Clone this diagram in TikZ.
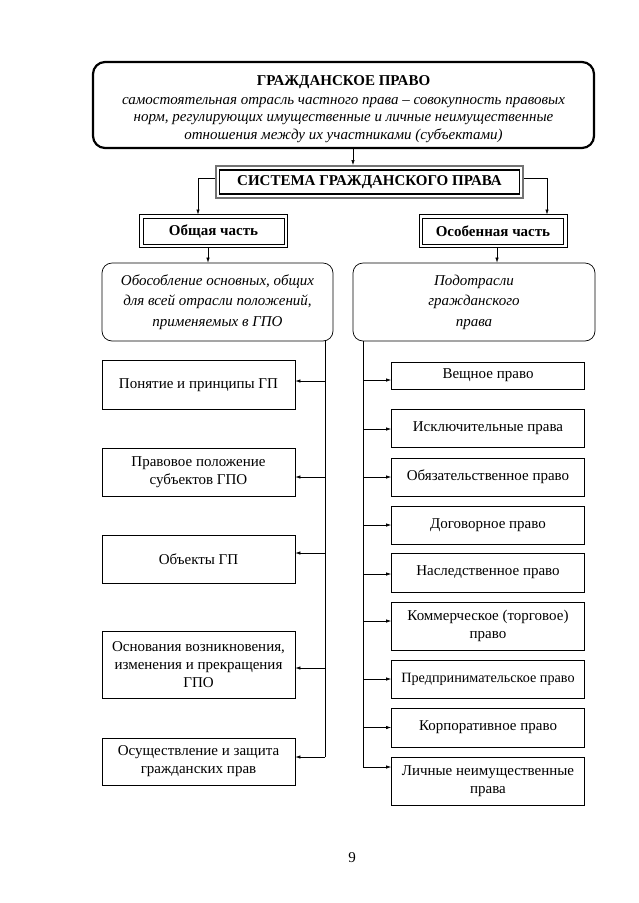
\documentclass[tikz,border=0pt]{standalone}
\usepackage{fontspec}
\setmainfont{Liberation Serif}
\usepackage{tikz}
\usetikzlibrary{arrows.meta, calc}

\begin{document}
\begin{tikzpicture}[x=1pt,y=-1pt,
           font=\fontsize{15}{18}\selectfont,
           >={Latex[length=5pt,width=3.4pt]},
           mainbox/.style={draw=black, line width=2.2pt, rounded corners=12pt, align=center,
              inner sep=0pt, minimum width=501, minimum height=86},
           sysbox/.style={draw=black, line width=1.8pt, align=center, inner sep=0pt,
              minimum width=300, minimum height=24},
           sysframe/.style={draw=black!55, line width=2pt},
           partbox/.style={draw=black, line width=1pt, align=center, inner sep=0pt,
              minimum width=141, minimum height=26},
           partframe/.style={draw=black, line width=0.6pt},
           groupbox/.style={draw=black, line width=0.7pt, rounded corners=10pt, align=center,
              inner sep=0pt, minimum height=78},
           itembox/.style={draw=black, line width=0.7pt, align=center, inner sep=0pt,
              minimum width=193},
           connections/.style={->,draw=black,line width=0.6pt},
           lines/.style={draw=black,line width=0.6pt},
        ]
        \useasboundingbox (0,0) rectangle (638,903);

        % top level
        \node at (343.5,105) (civil) [mainbox, font=\fontsize{15}{17.5}\selectfont] {\rule{0pt}{18pt}\textbf{ГРАЖДАНСКОЕ ПРАВО}\\[1.5pt]
          \itshape самостоятельная отрасль частного права -- совокупность правовых\\
          \itshape норм, регулирующих имущественные и личные неимущественные\\
          \itshape отношения между их участниками (субъектами)};
        \node at (369.5,182) (system) [sysbox] {\textbf{СИСТЕМА ГРАЖДАНСКОГО ПРАВА}};
        \draw[sysframe] ($(system.north west)+(-3,-3)$) rectangle ($(system.south east)+(3,3)$);
        \coordinate (axis) at (353,0);
        \draw[connections] (civil.south -| axis) -- ($(system.north -| axis)+(0,-4)$);

        % parts
        \node at (213.5,231) (general) [partbox] {\textbf{Общая часть}};
        \node at (493,231) (special) [partbox] {\textbf{Особенная часть}};
        \draw[partframe] ($(general.north west)+(-3,-3)$) rectangle ($(general.south east)+(3,3)$);
        \draw[partframe] ($(special.north west)+(-3,-3)$) rectangle ($(special.south east)+(3,3)$);
        \coordinate (gin) at (198,0);
        \coordinate (sin) at (547,0);
        \draw[connections] ($(system.west |- 0,178)+(-4,0)$) -| ($(general.north -| gin)+(0,-3)$);
        \draw[connections] ($(system.east |- 0,178)+(4,0)$) -| ($(special.north -| sin)+(0,-3)$);

        % groups
        \node at (217.5,302) (ggroup) [groupbox, minimum width=231, font=\fontsize{15}{20.5}\selectfont] {\itshape Обособление основных, общих\\
          \itshape для всей отрасли положений,\\ \itshape применяемых в ГПО};
        \node at (474,302) (sgroup) [groupbox, minimum width=242, font=\fontsize{15}{20.5}\selectfont] {\itshape Подотрасли\\
          \itshape гражданского\\ \itshape права};
        \coordinate (gout) at (208,0);
        \coordinate (sout) at (497,0);
        \draw[connections] ($(general.south -| gout)+(0,3)$) -- (ggroup.north -| gout);
        \draw[connections] ($(special.south -| sout)+(0,3)$) -- (sgroup.north -| sout);

        % general part items
        \node at (198.5,385) (concept) [itembox, minimum height=49] {Понятие и принципы ГП};
        \node at (198.5,472) (subjects) [itembox, minimum height=48] {Правовое положение\\ субъектов ГПО};
        \node at (198.5,559) (objects) [itembox, minimum height=48] {Объекты ГП};
        \node at (198.5,664.5) (grounds) [itembox, minimum height=67] {Основания возникновения,\\ изменения и прекращения\\ ГПО};
        \node at (198.5,761.5) (protection) [itembox, minimum height=47] {Осуществление и защита\\ гражданских прав};

        \coordinate (ltop) at (325,341);
        \coordinate (lend) at (325,757);
        \draw[lines] (ltop) -- (lend);
        \draw[connections] (ltop |- 0,381) -- (concept.east |- 0,381);
        \draw[connections] (ltop |- 0,477) -- (subjects.east |- 0,477);
        \draw[connections] (ltop |- 0,553) -- (objects.east |- 0,553);
        \draw[connections] (ltop |- 0,668) -- (grounds.east |- 0,668);
        \draw[connections] (lend) -- (lend -| protection.east);

        % special part items
        \node at (488,375.5) (property) [itembox, minimum height=27] {Вещное право};
        \node at (488,428) (exclusive) [itembox, minimum height=38] {Исключительные права};
        \node at (488,477) (obligation) [itembox, minimum height=38] {Обязательственное право};
        \node at (488,525) (contract) [itembox, minimum height=38] {Договорное право};
        \node at (488,572.5) (inheritance) [itembox, minimum height=39] {Наследственное право};
        \node at (488,626) (commercial) [itembox, minimum height=48] {Коммерческое (торговое)\\ право};
        \node at (488,679) (business) [itembox, minimum height=38, font=\fontsize{14.2}{16}\selectfont] {Предпринимательское право};
        \node at (488,727.5) (corporate) [itembox, minimum height=39] {Корпоративное право};
        \node at (488,781) (personal) [itembox, minimum height=48] {Личные неимущественные\\ права};

        \coordinate (rtop) at (363,341);
        \coordinate (rend) at (363,767);
        \draw[lines] (rtop) -- (rend);
        \draw[connections] (rtop |- 0,380) -- (property.west |- 0,380);
        \draw[connections] (rtop |- 0,429) -- (exclusive.west |- 0,429);
        \draw[connections] (rtop |- obligation) -- (obligation.west);
        \draw[connections] (rtop |- contract) -- (contract.west);
        \draw[connections] (rtop |- 0,574) -- (inheritance.west |- 0,574);
        \draw[connections] (rtop |- 0,621) -- (commercial.west |- 0,621);
        \draw[connections] (rtop |- business) -- (business.west);
        \draw[connections] (rtop |- corporate) -- (corporate.west);
        \draw[connections] (rend) -- (rend -| personal.west);

        % page number
        \node at (352,858) (page) {9};
\end{tikzpicture}
\end{document}
